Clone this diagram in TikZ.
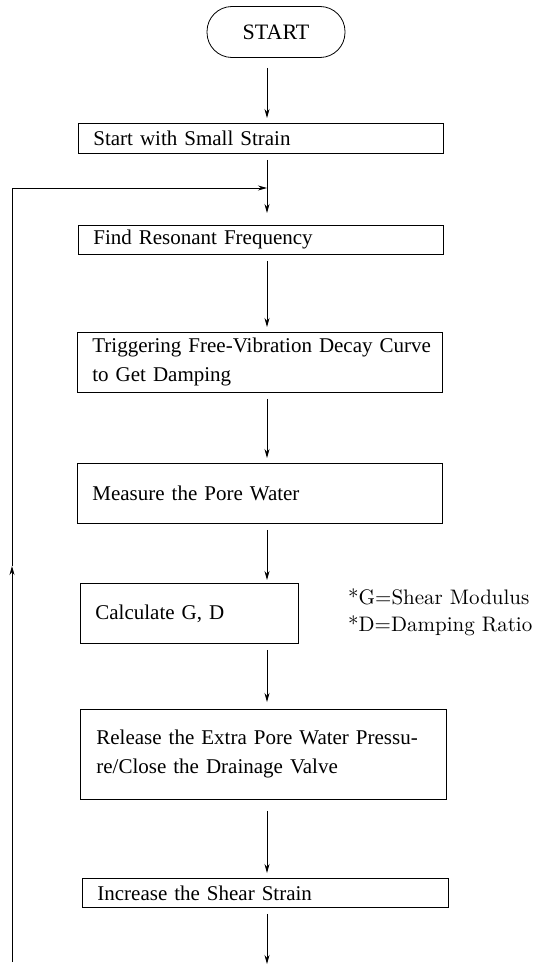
\documentclass[tikz,border=0pt]{standalone}
\usepackage{fontspec}
\setmainfont{Liberation Serif}
\newfontfamily\notefont{lmroman10-regular.otf}
\usetikzlibrary{arrows.meta}
\begin{document}
\begin{tikzpicture}[x=1pt,y=-1pt,
  font=\fontsize{21}{29}\selectfont,
  stepbox/.style={draw, line width=0.8pt, rectangle, anchor=north west, inner xsep=15pt, inner ysep=0pt, align=left},
  arr/.style={line width=0.8pt, -{Stealth[length=9pt,width=5pt]}, shorten <=6pt, shorten >=5pt},
  lin/.style={line width=0.8pt}
]
\useasboundingbox (0,0) rectangle (541,966);
\coordinate (ax) at (267,0);
\node[draw, line width=0.8pt, rounded corners=25pt, minimum width=138pt, minimum height=51pt, inner sep=0pt, font=\fontsize{22}{26}\selectfont] (start) at (276,32) {START};
\node[stepbox, minimum width=365pt, minimum height=30pt, text width=335pt] (b1) at (78,123) {Start with Small Strain};
\node[stepbox, minimum width=365pt, minimum height=29pt, text width=335pt] (b2) at (78,225) {Find Resonant Frequency};
\node[stepbox, minimum width=365pt, minimum height=60pt, text width=335pt] (b3) at (77,332) {\mbox{Triggering Free-Vibration Decay Curve}\\to Get Damping};
\node[stepbox, minimum width=365pt, minimum height=60pt, text width=335pt] (b4) at (77,463) {Measure the Pore Water};
\node[stepbox, minimum width=218pt, minimum height=60pt, text width=188pt] (b5) at (80,583) {Calculate G, D};
\node[stepbox, minimum width=366pt, minimum height=90pt, text width=334pt, inner xsep=16pt] (b6) at (80,709) {\makebox[334pt][s]{Release the Extra Pore Water Pressu-}\\re/Close the Drainage Valve};
\node[stepbox, minimum width=366pt, minimum height=29pt, text width=336pt] (b7) at (82,878) {Increase the Shear Strain};
\node[anchor=base west, align=left, inner sep=0pt, font=\notefont\fontsize{21}{27}\selectfont] (note) at (348,631) {*G=Shear Modulus\\*D=Damping Ratio};
\coordinate (end) at (267,968);
\coordinate (lb) at (12,962);
\coordinate (lup) at (12,566);
\coordinate (lt) at (12,188);
\coordinate (jn) at (267,188);

\draw[arr, shorten <=10pt] (start.south -| ax) -- (b1.north -| ax);
\draw[arr, shorten >=12pt] (b1.south -| ax) -- (b2.north -| ax);
\draw[arr] (b2.south -| ax) -- (b3.north -| ax);
\draw[arr] (b3.south -| ax) -- (b4.north -| ax);
\draw[arr, shorten >=3pt] (b4.south -| ax) -- (b5.north -| ax);
\draw[arr, shorten >=7pt] (b5.south -| ax) -- (b6.north -| ax);
\draw[arr, shorten <=11pt] (b6.south -| ax) -- (b7.north -| ax);
\draw[arr, shorten >=4pt] (b7.south -| ax) -- (end);
\draw[arr, shorten <=0pt, shorten >=0pt] (lb) -- (lup);
\draw[lin] (lup) -- (lt);
\draw[arr, shorten <=0pt, shorten >=0pt] (lt) -- (jn);
\end{tikzpicture}
\end{document}
